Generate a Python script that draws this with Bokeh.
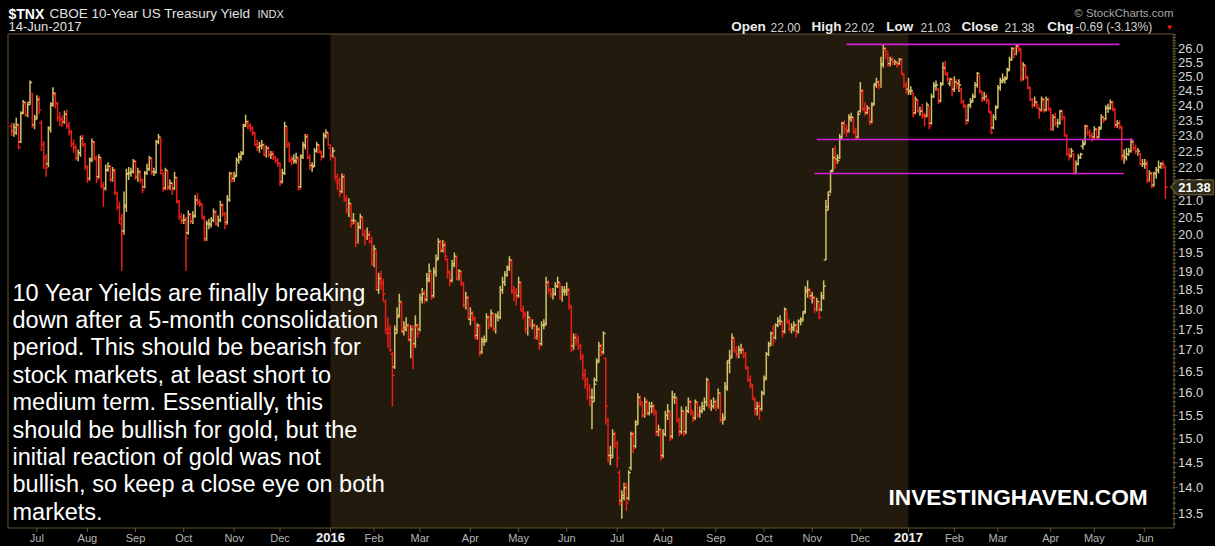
import math
import numpy as np
import pandas as pd
from bokeh.plotting import figure
from bokeh.models import (ColumnDataSource, Range1d, BoxAnnotation, Label, PolyAnnotation)
from bokeh.embed import file_html
from bokeh.resources import INLINE

# ---------------- data: $TNX daily bars, 16-Jun-2015 .. 14-Jun-2017 ----------------
opens = [
 23.30, 23.14, 23.10, 23.30, 22.80, 23.75, 24.05, 23.68, 24.10, 24.40, 23.35,
 23.60, 24.18, 23.40, 22.70, 22.30, 22.10, 23.25, 24.05, 24.35, 24.05, 23.60, 23.55, 23.45, 23.72, 23.32, 23.12, 22.74, 22.60, 22.28, 22.45, 22.92, 22.70,
 22.00, 21.65, 22.25, 22.75, 22.25, 21.70, 22.20, 21.45, 21.35, 21.90, 22.00, 21.62, 21.85, 21.20, 20.80, 20.30, 20.10, 20.85, 21.78, 21.82, 21.86,
 22.15, 21.70, 21.86, 21.60, 21.40, 21.82, 21.95, 22.25, 21.85, 21.85, 22.80, 22.90, 21.80, 21.35, 21.85, 21.38, 21.48, 21.35, 21.65, 20.95, 20.50,
 20.40, 20.45, 20.05, 20.55, 20.38, 20.55, 21.00, 20.92, 20.85, 20.45, 19.88, 20.32, 20.28, 20.42, 20.62, 20.30, 20.42, 20.82, 20.58, 20.35, 21.02, 21.78,
 21.65, 21.75, 22.22, 22.30, 22.45, 23.35, 23.40, 23.30, 23.22, 23.05, 22.70, 22.62, 22.68, 22.68, 22.38, 22.58, 22.38, 22.42, 22.30, 22.20,
 22.10, 21.55, 21.82, 23.20, 22.70, 22.18, 22.25, 22.18, 22.25, 21.40, 22.35, 22.65, 22.98, 22.28, 22.05, 22.05, 22.52, 22.68, 22.45, 22.32, 22.98, 23.05,
 22.60, 22.38, 22.30, 21.55, 21.60, 21.25, 21.72, 21.05, 20.70, 20.85, 20.40, 20.35, 19.80, 20.22, 20.45, 20.02, 19.90, 20.00, 19.82,
 19.20, 19.50, 18.50, 18.85, 18.65, 18.20, 17.40, 17.50, 16.90, 16.60, 17.50, 17.85, 18.15, 17.45, 17.55, 17.55, 17.25, 17.55, 17.15, 17.55,
 17.50, 18.25, 18.45, 18.25, 18.75, 18.95, 18.35, 18.95, 19.35, 19.75, 19.55, 19.75, 19.30, 18.95, 18.75, 19.15, 19.35, 18.80, 18.95, 18.65, 18.10, 18.30,
 17.75, 17.90, 17.75, 17.35, 17.55, 16.95, 17.25, 17.25, 17.75, 17.60, 17.85, 17.50, 17.85, 17.80, 18.50, 18.70, 18.90, 19.05, 19.25, 18.45, 18.45,
 18.35, 18.65, 17.95, 17.85, 17.50, 17.75, 17.60, 17.60, 17.30, 17.50, 17.15, 17.60, 17.65, 18.65, 18.50, 18.40, 18.40, 18.60, 18.65, 18.30, 18.45,
 18.45, 18.50, 18.05, 17.10, 17.30, 17.25, 17.10, 16.85, 16.40, 16.30, 16.10, 15.90, 15.90, 16.30, 16.75, 17.10, 16.95, 16.80, 15.40, 14.65, 14.65, 15.10,
 14.90, 14.30, 13.75, 13.85, 14.05, 13.80, 14.40, 15.05, 14.85, 15.35, 15.85, 15.75, 15.50, 15.80, 15.55, 15.70, 15.65, 15.55, 15.15, 15.15,
 14.65, 15.10, 15.50, 15.55, 15.05, 15.90, 15.85, 15.40, 15.15, 15.55, 15.15, 15.60, 15.80, 15.55, 15.45, 15.75, 15.50, 15.60, 15.65, 15.80, 16.25, 15.70, 15.70,
 15.80, 15.70, 15.95, 15.40, 15.45, 16.15, 16.75, 16.85, 17.25, 16.95, 16.90, 17.00, 17.00, 16.85, 16.55, 16.30, 16.15, 15.85, 15.65, 15.75, 15.65,
 16.00, 16.35, 16.90, 17.15, 17.40, 17.30, 17.60, 17.70, 17.65, 17.45, 17.95, 17.65, 17.50, 17.55, 17.60, 17.45, 17.70, 17.75, 17.95, 18.45, 18.50,
 18.35, 18.30, 18.00, 18.20, 18.00, 18.35, 19.30, 20.80, 21.25, 21.90, 22.30, 22.25, 22.30, 22.95, 23.35, 23.20, 23.15, 23.55, 23.55, 23.15, 22.95,
 23.80, 24.45, 23.85, 23.75, 23.90, 23.45, 24.05, 24.75, 24.80, 24.70, 25.45, 25.95, 25.80, 25.45, 25.60, 25.50, 25.50, 25.45, 25.60, 25.05, 24.70,
 24.55, 24.45, 24.40, 23.75, 24.15, 23.80, 23.85, 23.65, 23.65, 23.95, 23.40, 24.30, 24.65, 24.55, 24.15, 24.75, 25.25, 25.05, 24.75, 24.90,
 24.55, 24.80, 24.75, 24.55, 24.10, 23.95, 23.50, 24.00, 24.15, 24.30, 24.70, 25.00, 24.45, 24.25, 24.30, 24.15, 23.75, 23.25, 23.60,
 23.95, 24.60, 24.85, 24.85, 24.95, 25.25, 25.60, 25.95, 25.80, 26.05, 25.95, 24.90, 25.35, 24.95, 24.60, 24.20, 24.00, 24.10, 23.90, 23.85, 24.20, 23.85, 24.20,
 23.85, 23.20, 23.60, 23.40, 23.40, 23.80, 23.60, 23.00, 22.40, 22.35, 22.40, 21.80, 22.10, 22.30, 22.65, 22.75, 23.30, 23.10, 23.00,
 22.95, 23.20, 22.95, 23.25, 23.60, 23.55, 23.90, 23.90, 24.05, 23.85, 23.35, 23.40, 23.25, 22.35, 22.30, 22.40, 22.50, 22.80, 22.60, 22.50, 22.40, 22.10,
 22.10, 22.10, 21.60, 21.80, 21.45, 21.80, 21.90, 22.00, 22.10, 22.00,
]
highs = [
 23.42, 23.40, 23.58, 23.38, 23.80, 24.18, 24.12, 24.10, 24.85, 24.42, 23.68,
 24.34, 24.30, 23.50, 22.82, 22.40, 23.30, 24.10, 24.62, 24.45, 24.12, 23.78, 23.66, 23.82, 23.85, 23.45, 23.18, 22.86, 22.70, 22.55, 23.00, 23.02, 22.76,
 22.05, 22.30, 22.90, 22.82, 22.35, 22.40, 22.30, 21.55, 22.08, 22.15, 22.05, 22.00, 21.95, 21.25, 20.95, 20.60, 21.25, 21.95, 22.00, 21.98, 22.25,
 22.20, 21.98, 21.90, 21.65, 21.88, 22.10, 22.35, 22.30, 21.98, 22.85, 23.05, 22.92, 21.85, 21.98, 21.90, 21.62, 21.55, 21.85, 21.70, 21.00, 20.62,
 20.58, 20.50, 20.70, 20.62, 20.68, 21.15, 21.20, 21.02, 20.90, 20.55, 20.40, 20.45, 20.50, 20.75, 20.70, 20.55, 20.98, 20.90, 20.65, 21.15, 21.85, 21.85,
 21.85, 22.30, 22.45, 22.50, 23.38, 23.68, 23.50, 23.40, 23.30, 23.12, 22.85, 22.80, 22.85, 22.75, 22.68, 22.65, 22.50, 22.50, 22.35, 22.28,
 22.15, 21.95, 23.45, 23.30, 22.80, 22.35, 22.40, 22.45, 22.30, 22.40, 22.80, 23.05, 23.05, 22.40, 22.15, 22.60, 22.80, 22.72, 22.50, 23.10, 23.20, 23.10,
 22.70, 22.62, 22.32, 21.80, 21.68, 21.80, 21.78, 21.15, 21.05, 20.90, 20.62, 20.40, 20.35, 20.60, 20.50, 20.15, 20.20, 20.10, 19.95,
 19.70, 19.55, 18.95, 19.00, 18.80, 18.25, 17.80, 17.60, 16.95, 17.60, 18.05, 18.40, 18.20, 17.70, 17.80, 17.65, 17.60, 17.60, 17.85, 17.65,
 18.40, 18.55, 18.50, 18.95, 19.20, 18.95, 19.10, 19.45, 19.90, 19.85, 19.85, 19.80, 19.35, 19.00, 19.30, 19.50, 19.40, 19.05, 19.00, 18.70, 18.45, 18.35,
 18.05, 17.95, 17.80, 17.65, 17.60, 17.30, 17.35, 17.90, 17.85, 18.00, 17.90, 17.90, 17.95, 18.60, 18.85, 19.00, 19.15, 19.40, 19.30, 18.60, 18.55,
 18.85, 18.70, 18.10, 17.95, 17.95, 17.80, 17.75, 17.65, 17.60, 17.55, 17.70, 17.75, 18.85, 18.75, 18.55, 18.55, 18.70, 18.85, 18.70, 18.60, 18.60,
 18.70, 18.55, 18.10, 17.40, 17.40, 17.35, 17.15, 16.90, 16.55, 16.35, 16.20, 16.10, 16.35, 16.80, 17.20, 17.15, 17.45, 16.80, 15.45, 14.85, 15.20, 15.15,
 14.95, 14.35, 13.95, 14.10, 14.10, 14.35, 15.15, 15.15, 15.40, 16.00, 15.95, 15.80, 15.90, 15.85, 15.80, 15.80, 15.75, 15.60, 15.30, 15.20,
 15.20, 15.60, 15.75, 15.60, 16.05, 16.00, 15.90, 15.45, 15.70, 15.60, 15.70, 15.90, 15.85, 15.60, 15.85, 15.80, 15.70, 15.80, 15.90, 16.35, 16.25, 15.85, 15.90,
 15.85, 16.10, 16.00, 15.55, 16.25, 16.75, 17.00, 17.40, 17.30, 17.10, 17.10, 17.15, 17.05, 16.95, 16.60, 16.40, 16.20, 15.90, 15.80, 15.80, 16.05,
 16.40, 16.95, 17.20, 17.45, 17.60, 17.65, 17.80, 17.85, 17.70, 18.05, 17.95, 17.75, 17.65, 17.70, 17.65, 17.75, 17.80, 17.95, 18.60, 18.75, 18.55,
 18.45, 18.35, 18.30, 18.20, 18.45, 18.75, 21.00, 21.25, 21.90, 22.60, 22.65, 22.40, 23.05, 23.45, 23.50, 23.35, 23.70, 23.75, 23.60, 23.25, 23.80,
 24.80, 24.55, 24.10, 24.00, 23.95, 24.10, 24.75, 24.95, 24.85, 25.70, 26.15, 26.05, 25.85, 25.70, 25.70, 25.60, 25.55, 25.65, 25.65, 25.10, 24.80,
 24.95, 24.65, 24.45, 24.30, 24.20, 23.95, 24.05, 23.75, 24.10, 23.95, 24.40, 24.80, 24.85, 24.60, 24.80, 25.50, 25.55, 25.15, 24.95, 24.95,
 25.00, 24.90, 24.90, 24.60, 24.20, 24.00, 24.05, 24.25, 24.40, 24.80, 25.15, 25.05, 24.50, 24.45, 24.40, 24.20, 23.80, 23.70, 24.00,
 24.70, 24.95, 25.10, 25.00, 25.30, 25.70, 26.05, 26.05, 26.15, 26.15, 26.00, 25.50, 25.40, 25.00, 24.65, 24.25, 24.30, 24.15, 23.95, 24.30, 24.25, 24.30, 24.25,
 23.90, 23.70, 23.75, 23.55, 23.85, 23.85, 23.65, 23.05, 22.60, 22.60, 22.45, 22.20, 22.40, 22.45, 22.85, 23.35, 23.35, 23.20, 23.10,
 23.30, 23.25, 23.30, 23.70, 23.65, 24.00, 24.05, 24.20, 24.15, 23.90, 23.50, 23.50, 23.30, 22.55, 22.60, 22.60, 22.90, 22.85, 22.70, 22.60, 22.45, 22.25,
 22.25, 22.20, 21.90, 21.85, 21.85, 22.00, 22.20, 22.15, 22.20, 22.02,
]
lows = [
 22.98, 22.96, 23.02, 22.55, 22.76, 23.70, 23.62, 23.60, 24.02, 23.25, 23.20,
 23.52, 23.70, 22.50, 21.94, 21.70, 22.00, 23.10, 23.95, 23.90, 23.45, 23.30, 23.28, 23.38, 23.22, 23.00, 22.62, 22.45, 22.20, 22.18, 22.32, 22.62, 21.90,
 21.52, 21.58, 22.15, 22.20, 21.50, 21.65, 21.35, 20.80, 21.28, 21.85, 21.55, 21.55, 21.15, 20.70, 20.30, 19.00, 20.00, 20.65, 21.60, 21.70, 21.80,
 21.60, 21.55, 21.50, 21.20, 21.35, 21.75, 21.88, 21.75, 21.72, 21.80, 22.72, 21.78, 21.25, 21.30, 21.28, 21.30, 21.15, 21.30, 20.90, 20.42, 20.30,
 20.30, 19.00, 20.00, 20.30, 20.30, 20.48, 20.85, 20.80, 20.45, 19.80, 19.82, 20.15, 20.20, 20.35, 20.25, 20.22, 20.35, 20.52, 20.15, 20.28, 20.95, 21.52,
 21.55, 21.70, 22.10, 22.20, 22.38, 23.28, 23.20, 23.12, 23.00, 22.65, 22.50, 22.45, 22.55, 22.35, 22.30, 22.30, 22.25, 22.22, 22.12, 22.00,
 21.42, 21.50, 21.75, 22.60, 22.15, 22.05, 22.10, 22.10, 21.28, 21.35, 22.25, 22.55, 22.25, 21.90, 21.85, 22.00, 22.45, 22.42, 22.20, 22.28, 22.90, 22.65,
 22.20, 22.30, 21.60, 21.30, 21.10, 21.20, 20.95, 20.60, 20.50, 20.20, 20.30, 19.65, 19.75, 20.15, 19.95, 19.70, 19.85, 19.75, 19.15,
 19.10, 18.50, 18.40, 18.50, 18.20, 17.40, 17.05, 16.95, 15.70, 16.55, 17.40, 17.80, 17.40, 17.35, 17.45, 17.20, 16.80, 16.55, 17.05, 17.30,
 17.45, 18.15, 18.15, 18.20, 18.70, 18.25, 18.30, 18.85, 19.30, 19.50, 19.50, 19.30, 18.80, 18.60, 18.70, 19.10, 18.75, 18.75, 18.60, 18.05, 18.00, 17.75,
 17.60, 17.70, 17.25, 17.25, 16.85, 16.90, 17.10, 17.20, 17.50, 17.55, 17.45, 17.40, 17.70, 17.75, 18.40, 18.60, 18.85, 19.00, 18.40, 18.20, 18.10,
 18.30, 17.95, 17.75, 17.40, 17.35, 17.55, 17.50, 17.25, 17.25, 17.00, 17.10, 17.50, 17.60, 18.40, 18.30, 18.25, 18.35, 18.55, 18.25, 18.20, 18.35,
 18.35, 18.00, 16.95, 17.00, 17.10, 17.00, 16.75, 16.30, 16.10, 15.85, 15.70, 15.20, 15.80, 16.25, 16.70, 16.85, 16.90, 15.30, 14.50, 14.45, 14.60, 14.80,
 14.40, 13.65, 13.40, 13.75, 13.55, 13.75, 14.35, 14.70, 14.80, 15.30, 15.70, 15.45, 15.45, 15.50, 15.50, 15.55, 15.50, 15.05, 15.05, 14.55,
 14.60, 15.05, 15.40, 14.95, 15.00, 15.75, 15.35, 15.05, 15.10, 15.05, 15.10, 15.55, 15.50, 15.35, 15.40, 15.45, 15.45, 15.55, 15.60, 15.70, 15.65, 15.60, 15.65,
 15.60, 15.65, 15.35, 15.30, 15.40, 16.05, 16.45, 16.80, 16.95, 16.80, 16.80, 16.90, 16.80, 16.55, 16.25, 16.10, 15.85, 15.50, 15.50, 15.40, 15.60,
 15.95, 16.30, 16.85, 17.10, 17.10, 17.25, 17.55, 17.60, 17.30, 17.40, 17.65, 17.45, 17.40, 17.45, 17.30, 17.40, 17.60, 17.70, 17.90, 18.30, 18.25,
 18.15, 17.90, 17.95, 17.75, 17.95, 18.25, 19.30, 20.70, 21.20, 21.85, 21.95, 22.10, 22.25, 22.90, 23.05, 22.95, 23.10, 23.45, 23.05, 22.85, 22.90,
 23.75, 23.80, 23.65, 23.70, 23.35, 23.40, 24.00, 24.60, 24.55, 24.60, 25.30, 25.60, 25.35, 25.35, 25.40, 25.40, 25.30, 25.40, 25.05, 24.60, 24.40,
 24.35, 24.35, 23.60, 23.70, 23.75, 23.65, 23.55, 23.30, 23.60, 23.20, 23.35, 24.25, 24.50, 24.05, 24.10, 24.70, 25.05, 24.80, 24.65, 24.30,
 24.45, 24.55, 24.45, 24.05, 23.90, 23.35, 23.45, 23.90, 24.10, 24.25, 24.60, 24.40, 24.10, 24.15, 24.05, 23.75, 23.05, 23.20, 23.50,
 23.90, 24.50, 24.75, 24.75, 24.90, 25.20, 25.55, 25.65, 25.75, 25.85, 24.80, 24.85, 24.90, 24.55, 24.15, 23.90, 23.95, 23.90, 23.55, 23.80, 23.75, 23.80, 23.80,
 23.15, 23.15, 23.30, 23.25, 23.35, 23.50, 22.95, 22.35, 22.20, 22.30, 21.78, 21.80, 22.05, 22.25, 22.55, 22.70, 23.00, 22.90, 22.80,
 22.90, 22.85, 22.90, 23.20, 23.40, 23.50, 23.75, 23.85, 23.80, 23.25, 23.25, 23.20, 22.20, 22.10, 22.20, 22.35, 22.45, 22.50, 22.40, 22.35, 22.05, 22.00,
 21.95, 21.50, 21.55, 21.35, 21.40, 21.65, 21.80, 21.95, 21.95, 21.03,
]
closes = [
 23.12, 23.26, 23.35, 22.62, 23.72, 24.10, 23.70, 24.02, 24.78, 23.30, 23.52,
 24.20, 23.84, 22.72, 22.30, 21.98, 23.20, 24.00, 24.40, 24.08, 23.58, 23.52, 23.48, 23.70, 23.30, 23.10, 22.72, 22.62, 22.30, 22.42, 22.90, 22.72, 22.03,
 21.62, 22.20, 22.80, 22.30, 21.62, 22.30, 21.42, 21.30, 21.92, 22.02, 21.60, 21.90, 21.20, 20.80, 20.45, 20.02, 20.80, 21.80, 21.80, 21.85, 22.18,
 21.72, 21.85, 21.62, 21.30, 21.80, 21.95, 22.28, 21.82, 21.82, 22.80, 22.95, 21.90, 21.32, 21.90, 21.35, 21.50, 21.30, 21.68, 20.98, 20.50, 20.38,
 20.42, 19.90, 20.58, 20.40, 20.52, 21.00, 20.95, 20.90, 20.50, 19.85, 20.30, 20.30, 20.40, 20.65, 20.30, 20.40, 20.85, 20.60, 20.30, 21.00, 21.80, 21.60,
 21.70, 22.20, 22.32, 22.40, 23.30, 23.45, 23.30, 23.25, 23.10, 22.72, 22.65, 22.65, 22.70, 22.40, 22.60, 22.40, 22.40, 22.30, 22.20, 22.12,
 21.50, 21.80, 23.30, 22.72, 22.22, 22.20, 22.20, 22.30, 21.32, 22.30, 22.70, 22.95, 22.30, 22.00, 22.00, 22.50, 22.70, 22.50, 22.30, 23.00, 23.10, 22.70,
 22.40, 22.50, 21.70, 21.50, 21.20, 21.70, 21.00, 20.70, 20.90, 20.30, 20.40, 19.80, 20.20, 20.50, 20.00, 19.90, 20.00, 19.80, 19.20,
 19.60, 18.60, 18.80, 18.70, 18.40, 17.50, 17.40, 17.00, 16.40, 17.40, 17.80, 18.20, 17.50, 17.50, 17.60, 17.30, 17.50, 17.10, 17.60, 17.40,
 18.30, 18.40, 18.30, 18.80, 19.00, 18.30, 19.00, 19.30, 19.80, 19.60, 19.70, 19.40, 19.00, 18.70, 19.20, 19.40, 18.80, 19.00, 18.70, 18.10, 18.30, 17.80,
 17.90, 17.80, 17.30, 17.60, 16.90, 17.20, 17.20, 17.80, 17.60, 17.90, 17.50, 17.80, 17.80, 18.50, 18.70, 18.90, 19.10, 19.30, 18.50, 18.40, 18.30,
 18.70, 18.00, 17.90, 17.50, 17.80, 17.60, 17.60, 17.30, 17.50, 17.10, 17.60, 17.60, 18.70, 18.50, 18.40, 18.40, 18.60, 18.70, 18.30, 18.50, 18.50,
 18.50, 18.10, 17.00, 17.30, 17.20, 17.10, 16.80, 16.40, 16.20, 16.10, 15.80, 15.80, 16.20, 16.70, 17.10, 16.90, 17.40, 15.70, 14.60, 14.60, 15.10, 14.90,
 14.60, 13.70, 13.80, 14.00, 13.70, 14.30, 15.10, 14.80, 15.30, 15.90, 15.80, 15.50, 15.80, 15.60, 15.70, 15.70, 15.60, 15.10, 15.20, 14.60,
 15.10, 15.50, 15.60, 15.00, 15.90, 15.90, 15.40, 15.10, 15.60, 15.10, 15.60, 15.80, 15.60, 15.40, 15.80, 15.50, 15.60, 15.70, 15.80, 16.30, 15.70, 15.70, 15.80,
 15.70, 16.00, 15.40, 15.40, 16.10, 16.70, 16.80, 17.30, 17.00, 16.90, 17.00, 17.00, 16.90, 16.60, 16.30, 16.20, 15.90, 15.60, 15.70, 15.60, 16.00,
 16.30, 16.90, 17.10, 17.40, 17.20, 17.60, 17.70, 17.70, 17.40, 18.00, 17.70, 17.50, 17.50, 17.60, 17.40, 17.70, 17.70, 17.90, 18.50, 18.50, 18.30,
 18.30, 18.00, 18.20, 17.80, 18.30, 18.60, 20.70, 21.15, 21.85, 22.30, 22.20, 22.20, 22.90, 23.40, 23.20, 23.10, 23.60, 23.60, 23.10, 22.90, 23.70,
 24.50, 23.90, 23.80, 23.90, 23.40, 24.00, 24.70, 24.80, 24.70, 25.40, 26.00, 25.90, 25.40, 25.60, 25.50, 25.50, 25.40, 25.60, 25.10, 24.70, 24.50,
 24.50, 24.50, 23.70, 24.20, 23.80, 23.80, 23.70, 23.60, 24.00, 23.30, 24.30, 24.70, 24.70, 24.10, 24.70, 25.30, 25.10, 24.90, 24.90, 24.50,
 24.80, 24.70, 24.70, 24.10, 24.00, 23.40, 24.00, 24.10, 24.30, 24.70, 25.10, 24.50, 24.20, 24.30, 24.20, 23.80, 23.10, 23.60, 23.90,
 24.60, 24.80, 24.90, 24.90, 25.20, 25.60, 26.00, 25.80, 26.10, 26.00, 24.90, 25.40, 25.00, 24.60, 24.20, 24.00, 24.10, 24.00, 23.80, 24.20, 23.80, 24.20, 23.90,
 23.20, 23.60, 23.40, 23.40, 23.80, 23.60, 23.00, 22.40, 22.30, 22.50, 21.80, 22.10, 22.30, 22.40, 22.70, 23.30, 23.10, 23.00, 22.90,
 23.20, 22.90, 23.20, 23.60, 23.50, 23.90, 23.90, 24.10, 23.90, 23.30, 23.40, 23.30, 22.30, 22.30, 22.40, 22.50, 22.80, 22.60, 22.50, 22.50, 22.10, 22.10,
 22.10, 21.60, 21.80, 21.40, 21.80, 21.90, 22.00, 22.10, 22.07, 21.38,
]

market_holidays = ["2015-07-03", "2015-09-07", "2015-11-26", "2015-12-25",
                   "2016-01-01", "2016-01-18", "2016-02-15", "2016-03-25", "2016-05-30",
                   "2016-07-04", "2016-09-05", "2016-11-24", "2016-12-26",
                   "2017-01-02", "2017-01-16", "2017-02-20", "2017-04-14", "2017-05-29"]

month_labels = ["Jul", "Aug", "Sep", "Oct", "Nov", "Dec", "2016", "Feb", "Mar", "Apr", "May", "Jun",
                "Jul", "Aug", "Sep", "Oct", "Nov", "Dec", "2017", "Feb", "Mar", "Apr", "May", "Jun"]

y_tick_values = [13.5, 14.0, 14.5, 15.0, 15.5, 16.0, 16.5, 17.0, 17.5, 18.0, 18.5, 19.0, 19.5,
                 20.0, 20.5, 21.0, 21.5, 22.0, 22.5, 23.0, 23.5, 24.0, 24.5, 25.0, 25.5, 26.0]

# horizontal support / resistance lines drawn on the chart
level_values = [26.15, 22.87, 21.80]
level_start = ["2016-11-22", "2016-11-03", "2016-11-02"]
level_end = ["2017-05-16", "2017-05-24", "2017-05-18"]

last_close = "21.38"
header_fields = [("Open", "22.00"), ("High", "22.02"), ("Low", "21.03"),
                 ("Close", "21.38"), ("Chg", "-0.69 (-3.13%)")]

note_lines = ["10 Year Yields are finally breaking",
              "down after a 5-month consolidation",
              "period. This should be bearish for",
              "stock markets, at least short to",
              "medium term. Essentially, this",
              "should be bullish for gold, but the",
              "initial reaction of gold was not",
              "bullish, so keep a close eye on both",
              "markets."]

# ---------------- build ----------------
n = len(closes)
assert len(opens) == n and len(highs) == n and len(lows) == n
dates = pd.bdate_range("2015-06-01", "2017-06-14", freq="C", holidays=market_holidays)
dates = dates[-n:]
idx = np.arange(n)

UP = "#d2c26a"
DOWN = "#e8201a"
colors = []
for i in range(n):
    prev = closes[i - 1] if i > 0 else opens[0]
    colors.append(UP if closes[i] >= prev else DOWN)

src = ColumnDataSource(dict(x=idx, xl=idx - 0.95, xr=idx + 0.95, o=opens, h=highs,
                            l=lows, c=closes, color=colors))

month_ticks = [i for i in range(1, n) if dates[i].month != dates[i - 1].month]

W, H = 1215, 546
X0, X1 = -4.87, 524.84          # bar index range covering the whole canvas
Y0, Y1 = 12.886, 27.82           # log value range covering the whole canvas
BOX_L, BOX_T, BOX_R, BOX_B = 7.5, 33.5, 1173.5, 527.5   # chart box, canvas px


def ix(px):
    return X0 + px * (X1 - X0) / W


def vy(py):
    return Y1 * math.exp(-py / H * math.log(Y1 / Y0))


def py_of(v):
    return H * math.log(Y1 / v) / math.log(Y1 / Y0)


p = figure(width=W, height=H, x_range=Range1d(X0, X1), y_range=Range1d(Y0, Y1),
           y_axis_type="log", x_axis_location=None, y_axis_location=None,
           output_backend="svg", toolbar_location=None, min_border=0)
p.background_fill_color = "#000000"
p.border_fill_color = "#000000"
p.outline_line_color = None
p.grid.visible = False

try:
    from bokeh.models import GlobalInlineStyleSheet
    p.stylesheets = [GlobalInlineStyleSheet(css="html, body { background: #000000; }")]
except Exception:
    pass

FRAME = "#66562e"

# year shading (2016)
year_idx = [t for t, lab in zip(month_ticks, month_labels) if lab.isdigit()]
p.add_layout(BoxAnnotation(left=year_idx[0], right=year_idx[1], left_units="data", right_units="data",
                           top=BOX_T, bottom=BOX_B, top_units="canvas", bottom_units="canvas",
                           fill_color="#221a0c", fill_alpha=1.0, line_color=None, level="underlay"))

# OHLC bars
BW = 1.5
p.segment(x0="x", y0="l", x1="x", y1="h", color="color", line_width=BW, source=src)
p.segment(x0="xl", y0="o", x1="x", y1="o", color="color", line_width=BW, source=src)
p.segment(x0="x", y0="c", x1="xr", y1="c", color="color", line_width=BW, source=src)

# level lines
date_pos = {d.strftime("%Y-%m-%d"): i for i, d in enumerate(dates)}
p.segment(x0=[date_pos[d] for d in level_start], x1=[date_pos[d] for d in level_end],
          y0=level_values, y1=level_values, color="#d41fd4", line_width=1.6)

# chart box
p.add_layout(BoxAnnotation(left=BOX_L, right=BOX_R, top=BOX_T, bottom=BOX_B,
                           left_units="canvas", right_units="canvas",
                           top_units="canvas", bottom_units="canvas",
                           fill_alpha=0.0, fill_color=None, line_color=FRAME, line_width=1,
                           line_alpha=1.0))

# right value axis: ticks + labels
minor_vals = [round(13.3 + 0.1 * k, 1) for k in range(133)]
p.segment(x0=[ix(BOX_R - 1.5)] * len(minor_vals), x1=[ix(BOX_R + 2)] * len(minor_vals),
          y0=minor_vals, y1=minor_vals, color=FRAME, line_width=1)
p.segment(x0=[ix(BOX_R)] * len(y_tick_values), x1=[ix(BOX_R + 4)] * len(y_tick_values),
          y0=y_tick_values, y1=y_tick_values, color=FRAME, line_width=1)

FONT = "Liberation Sans"


def lab(x, y, text, size, color, bold=False, align="left", xu="canvas", yu="canvas"):
    p.add_layout(Label(x=x, y=y, x_units=xu, y_units=yu, text=text,
                       text_font=FONT, text_font_size=size, text_color=color,
                       text_font_style="bold" if bold else "normal",
                       text_align=align, text_baseline="middle"))


for v in y_tick_values:
    lab(BOX_R + 4, v, "%.1f" % v, "13px", "#d6d6d6", yu="data")

# bottom month axis: ticks + labels
p.segment(x0=month_ticks, x1=month_ticks, y0=[vy(BOX_B)] * len(month_ticks),
          y1=[vy(BOX_B + 4)] * len(month_ticks), color=FRAME, line_width=1)
for t, m in zip(month_ticks, month_labels):
    if m.isdigit():
        lab(t, 537, m, "13px", "#f2f2f2", bold=True, align="center", xu="data")
    else:
        lab(t, 537.5, m, "11px", "#b4b4b4", align="center", xu="data")

# header
lab(8, 13, "$TNX", "14px", "#ffffff", bold=True)
lab(49, 13, "CBOE 10-Year US Treasury Yield", "13.5px", "#e2e2e2")
lab(257, 13.5, "INDX", "11px", "#e2e2e2")
lab(8, 26, "14-Jun-2017", "13px", "#e2e2e2")
lab(1173, 12.5, "\u00a9 StockCharts.com", "11.5px", "#a8a8a8", align="right")
field_x = [(730.7, 770), (811, 844), (885.7, 920), (961, 1004), (1046.7, 1075)]
for (name, val), (xn, xv) in zip(header_fields, field_x):
    lab(xn, 26, name, "13.5px", "#ececec", bold=True)
    lab(xv, 26.5, val, "12px", "#d0d0d0")
lab(1169, 26.5, "\u25bc", "8px", "#e5201b", align="center")

# last value tag on the axis
yc = py_of(float(last_close))
p.add_layout(PolyAnnotation(xs=[1170, 1177, 1213, 1213, 1177],
                            ys=[yc, yc - 7.5, yc - 7.5, yc + 7.5, yc + 7.5],
                            xs_units="canvas", ys_units="canvas",
                            fill_color="#2e2a17", fill_alpha=1.0,
                            line_color="#d6cd8c", line_width=1.5))
lab(1194, yc, last_close, "13px", "#ffffff", bold=True, align="center")

# commentary text
for k, line in enumerate(note_lines):
    lab(12, 292 + 27.4 * k, line, "23.5px", "#ffffff")

lab(888, 496, "INVESTINGHAVEN.COM", "22.7px", "#ffffff", bold=True)

open("out.html", "w").write(file_html(p, INLINE))
